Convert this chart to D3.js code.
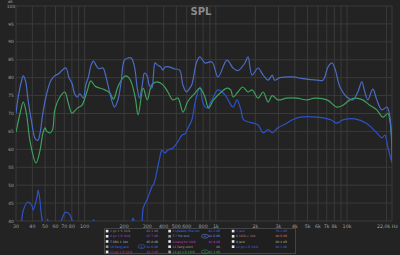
<!DOCTYPE html>
<html>
<head>
<meta charset="utf-8">
<script src="https://cdn.jsdelivr.net/npm/d3@7"></script>
<style>
  html, body { margin: 0; padding: 0; background: #222222; }
  svg { display: block; font-family: "DejaVu Sans", sans-serif; }
</style>
</head>
<body>
<div id="container"></div>
<script>
// frequency (Hz) / SPL (dB) pairs
const upperBlue = [
  [30,70],[31,74],[33,79],[34.1,80.5],[35.5,79],[37,74],[39.3,68],[42,63],[44,62.5],[46,65],
  [48,70],[51,75],[55,79],[59,80.5],[63,81],[67,82],[72,82.7],[76,80],[80,78.5],[84,75.5],
  [88,74.6],[92,75.5],[97.6,74.3],[102,78],[107,80.2],[112,83.5],[117,84.6],[122,83.5],[128,82.5],
  [138,82.7],[145,80.5],[155,76],[169,71.8],[180,74],[190,79],[201,84.9],[215,85.5],[227,85.5],
  [240,83],[252,77],[262,74.3],[275,78],[286,81.3],[300,80.5],[310,78],[325,77.1],[335,81],
  [344,84.1],[360,83.5],[380,83],[395,82.1],[410,83],[440,83],[480,82.5],[530,82.1],[560,78],
  [598,76],[630,77],[656,78],[690,82],[714,84.4],[757,85.8],[826,84.1],[935,84.4],[1038,80.2],
  [1216,84.9],[1351,82.7],[1474,82],[1666,84.1],[1758,85.8],[1889,80.7],[2098,82.7],[2292,80.7],
  [2505,79.3],[2689,80.7],[2802,79.3],[3075,80],[3870,80.2],[4500,79.8],[5910,79.3],[6554,79.3],
  [7162,83],[7680,84.1],[8090,82.5],[8830,77.4],[9970,74.6],[11060,73.8],[12080,76],[12950,78.8],
  [13650,76],[14400,73.8],[15730,76.8],[16850,73.8],[18400,71],[20100,71.8],[21200,69],[22000,57]
];
const green = [
  [30,64.8],[32.2,70],[34.1,73.2],[36,70],[38.5,62],[42.6,56.2],[45.6,59.5],[48.2,64.6],[50,66],
  [51.5,65],[54.6,64.6],[57,65.5],[59.3,71],[64.8,74.6],[70.6,76],[75,73],[80.3,70.1],[88,71.5],
  [95.3,72.3],[104,76],[111.6,79.1],[119.7,77.7],[130,77.1],[142.7,76.6],[155.8,75.7],[166,74],
  [179,77.4],[195.5,79.9],[206,80.5],[222,79.5],[242.7,74.6],[255.9,69.6],[279.6,77.1],[300,73.8],
  [325,78],[357,78.8],[395,78],[431,76],[471,73.8],[514,74.3],[562,70.4],[614,73.5],[694,75.7],
  [757,77.1],[826,74.6],[880,71.5],[960,73.8],[1100,76],[1216,77.1],[1300,76.6],[1351,74.6],
  [1474,76],[1600,77.4],[1758,76],[1889,76.6],[2098,74.3],[2292,76],[2505,73.2],[2689,75],
  [2970,73.8],[3470,74.3],[4140,74.3],[4950,73.8],[5680,74.3],[7040,73.8],[8350,71.8],[9300,72.3],
  [10480,73.8],[11460,74.3],[13170,73.8],[14900,72.3],[16850,71],[18730,69],[20460,70],[21200,68],[22000,62]
];
const lowerBlue = [
  [30,33],[32.2,36],[34.1,43],[37,45.3],[39.8,44.2],[40.5,43],[43.4,46.7],[44.2,48.6],[45.6,46],
  [46.4,43],[47.4,40.3],[49,36],[51.5,38],[52.3,40.6],[53.5,38],[59.3,35],[67,40.5],[70.6,42.3],
  [72.1,42.5],[77.2,41.8],[80.3,40],[85,37],[105,36],[117,40.3],[125,36],[200,34],[222,38],
  [234.6,40.8],[245,38],[262,37],[273.8,40],[279.6,43.6],[305,46.7],[325,49.5],[338,50.5],
  [357,54.2],[375,57.9],[388,59.8],[409,59],[431,59.8],[471,60.4],[507,61.8],[553,64],[582,64.3],
  [614,66],[656,68.2],[694,72.9],[757,77.4],[798,72.9],[856,71.5],[935,73.8],[1038,76.6],
  [1174,75.2],[1351,71.8],[1449,73.8],[1553,71],[1630,68.2],[2098,66.8],[2292,64.6],[2505,65.5],
  [2689,64.6],[2970,66],[3470,67.3],[3800,68.2],[4400,69],[5910,69],[7600,68.2],[8300,67.3],
  [9300,68.2],[11460,68.5],[14000,67.3],[16850,64.6],[18400,63.2],[19400,64],[20460,60.6],[22000,56.2]
];

const yTicks = [40,45,50,55,60,65,70,75,80,85,90,95,100];
const xLabelTicks = [30,40,50,60,70,80,100,200,300,400,500,600,800,1000,2000,3000,4000,5000,6000,7000,8000,10000];
const xGridTicks = [30,40,50,60,70,80,90,100,200,300,400,500,600,700,800,900,1000,2000,3000,4000,5000,6000,7000,8000,9000,10000,20000];

const legendNames = [
  ["1 go 1 R 10/9", "4 go 1 R 10/9", "7 SBX 1 1kz", "10 Fang Jack", "13 go 1 R 10/9"],
  ["2 speaker fine tun", "5 ? Pre test", "8 bang hit 10/9", "11 Fang short", "14 go 1 R 10/9"],
  ["3 Jack", "6 16/9 + 1kz", "9 Jack", "12 go 1 R 10/9"]
];
const legendValues = [
  ["83.1 dB", "87.7 dB", "85.0 dB", "81.6 dB", "82.5 dB"],
  ["81.1 dB", "81.6 dB", "81.9 dB", "80", "81.3 dB"],
  ["79.1 dB", "80.6 dB", "80.4 dB", "80.1 dB"]
];
const legendColors = [
  ["#8a8a8a", "#9b4fd6", "#b8b8b8", "#3f6fe0", "#b03d8c"],
  ["#3f6fe0", "#6f8fe8", "#c23bd0", "#a0a0a0", "#3fae5a"],
  ["#4d63d8", "#d07a7a", "#b0b08a", "#2f6fe0"]
];
const legendChecked = [
  [false, false, false, true, false],
  [false, true, false, false, true],
  [false, false, false, false]
];
const legendPills = [
  [false, false, false, true, false],
  [false, true, false, false, true],
  [false, false, false, false]
];

const width = 400, height = 255;
const margin = { left: 16, right: 8, top: 6, bottom: 34 };

const svg = d3.select("#container").append("svg")
  .attr("width", width)
  .attr("height", height);

svg.append("rect").attr("width", width).attr("height", height).attr("fill", "#232323");

const x = d3.scaleLog().domain([30, 22000]).range([margin.left, width - margin.right]);
const y = d3.scaleLinear().domain([40, 100]).range([height - margin.bottom, margin.top]);

// grid
svg.append("g").selectAll("line")
  .data(xGridTicks)
  .enter().append("line")
  .attr("x1", d => x(d)).attr("x2", d => x(d))
  .attr("y1", y(100)).attr("y2", y(40))
  .attr("stroke", "#3a3a3a").attr("stroke-width", 1);

svg.append("g").selectAll("line")
  .data(yTicks)
  .enter().append("line")
  .attr("x1", x(30)).attr("x2", x(22000))
  .attr("y1", d => y(d)).attr("y2", d => y(d))
  .attr("stroke", "#3a3a3a").attr("stroke-width", 1);

svg.append("line")
  .attr("x1", x(22000)).attr("x2", x(22000))
  .attr("y1", y(100)).attr("y2", y(40))
  .attr("stroke", "#3a3a3a");

// axis labels
svg.append("g").selectAll("text")
  .data(yTicks)
  .enter().append("text")
  .attr("x", 11).attr("y", d => y(d) + 1.6)
  .attr("text-anchor", "middle")
  .attr("font-size", 4.4).attr("fill", "#a0a0a0")
  .text(d => d);

svg.append("text").attr("x", 10).attr("y", 3).attr("text-anchor", "middle")
  .attr("font-size", 3.6).attr("fill", "#a0a0a0").text("dB");

const fmt = d => d >= 1000 ? (d / 1000) + "k" : d;
svg.append("g").selectAll("text")
  .data(xLabelTicks)
  .enter().append("text")
  .attr("x", d => x(d)).attr("y", y(40) + 7)
  .attr("text-anchor", "middle")
  .attr("font-size", 4.8).attr("fill", "#a0a0a0")
  .text(fmt);

svg.append("text").attr("x", 398).attr("y", y(40) + 7)
  .attr("text-anchor", "end")
  .attr("font-size", 4.8).attr("fill", "#a0a0a0").text("22,0k Hz");

svg.append("text").attr("x", 201).attr("y", 15)
  .attr("text-anchor", "middle")
  .attr("font-size", 10).attr("font-weight", "bold")
  .attr("fill", "#8c8c8c").text("SPL");

// curves
svg.append("clipPath").attr("id", "plot")
  .append("rect")
  .attr("x", x(30)).attr("y", y(100))
  .attr("width", x(22000) - x(30)).attr("height", y(40) - y(100));

const line = d3.line()
  .x(d => x(d[0]))
  .y(d => y(d[1]))
  .curve(d3.curveCatmullRom.alpha(0.5));

const series = [
  { data: lowerBlue, color: "#2d52c8" },
  { data: green, color: "#3f9f5c" },
  { data: upperBlue, color: "#4a6cc4" }
];

svg.append("g").attr("clip-path", "url(#plot)")
  .selectAll("path")
  .data(series)
  .enter().append("path")
  .attr("d", d => line(d.data))
  .attr("fill", "none")
  .attr("stroke", d => d.color)
  .attr("stroke-width", 1.2);

// legend
const lg = svg.append("g");
lg.append("rect")
  .attr("x", 104.5).attr("y", 228.5).attr("width", 191).attr("height", 25)
  .attr("fill", "#1f1f1f").attr("stroke", "#444").attr("stroke-width", 1);

const colX = [107, 169.5, 233];
const valX = [158, 220, 287];
const pillX = [141.5, 205];
legendNames.forEach((col, c) => {
  col.forEach((name, r) => {
    const ry = 231 + r * 5.2;
    lg.append("rect").attr("x", colX[c] - 1.2).attr("y", ry - 1.2).attr("width", 2.6).attr("height", 2.6)
      .attr("fill", legendChecked[c][r] ? "#9a9a9a" : "#e8e8e8");
    lg.append("text").attr("x", colX[c] + 3).attr("y", ry + 1.1)
      .attr("font-size", 3).attr("fill", legendColors[c][r]).text(name);
    lg.append("text").attr("x", valX[c]).attr("y", ry + 1.1).attr("text-anchor", "end")
      .attr("font-size", 3).attr("fill", legendColors[c][r]).text(legendValues[c][r]);
    if (legendPills[c][r]) {
      lg.append("ellipse").attr("cx", pillX[c]).attr("cy", ry).attr("rx", 3.6).attr("ry", 1.9)
        .attr("fill", "#1f1f1f").attr("stroke", legendColors[c][r]).attr("stroke-width", 0.5);
      lg.append("text").attr("x", pillX[c]).attr("y", ry + 0.9).attr("text-anchor", "middle")
        .attr("font-size", 2.4).attr("fill", legendColors[c][r]).text("~S~");
    }
  });
});
</script>
</body>
</html>
